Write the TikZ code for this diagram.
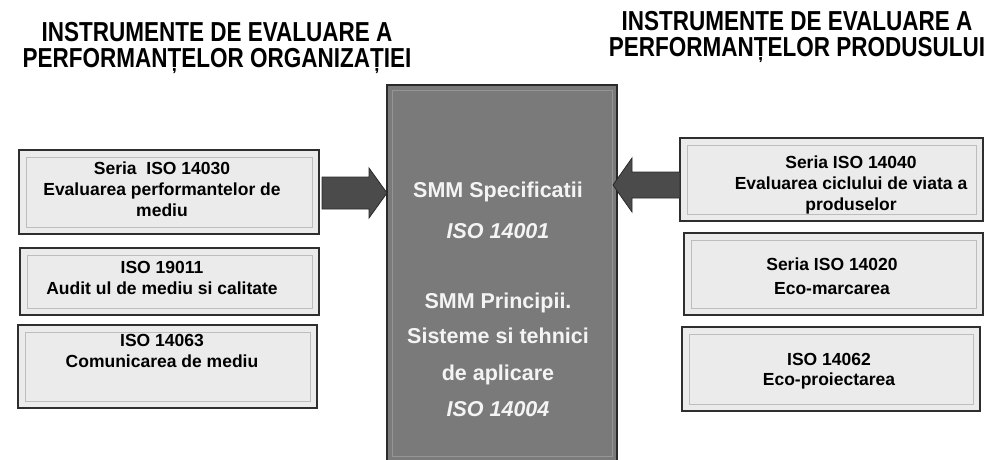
\documentclass[tikz,border=0pt]{standalone}
\usepackage{fontspec}
\setmainfont{Liberation Sans}
\usetikzlibrary{calc}

\definecolor{boxfill}{HTML}{EBEBEB}
\definecolor{boxedge}{HTML}{2E2E2E}
\definecolor{boxinner}{HTML}{BDBDBD}
\definecolor{corefill}{HTML}{7A7A7A}
\definecolor{coreedge}{HTML}{2A2A2A}
\definecolor{coreinner}{HTML}{959595}
\definecolor{arrowfill}{HTML}{4B4B4B}
\definecolor{arrowedge}{HTML}{2A2A2A}
\definecolor{coretext}{HTML}{F4F4F4}

\tikzset{
  stdbox/.style={draw=boxedge, line width=1.3pt, fill=boxfill, inner sep=0pt, outer sep=0pt},
  innerframe/.style={draw=boxinner, line width=1pt},
  corebox/.style={draw=coreedge, line width=1.3pt, fill=corefill, inner sep=0pt, outer sep=0pt},
  coreframe/.style={draw=coreinner, line width=1pt},
  boxtext/.style={align=center, inner sep=0pt, text=black,
    font=\fontsize{17.5}{21}\selectfont\bfseries},
  coretxt/.style={anchor=base, inner sep=0pt, text=coretext,
    font=\fontsize{21.5}{26}\selectfont\bfseries},
  titletext/.style={inner sep=0pt, text=black},
  fatarrow/.style={fill=arrowfill, draw=arrowedge, line width=0.8pt, line join=miter}
}

% two-line heading, set slightly taller than the plain font
\newcommand{\titleblock}[2]{\scalebox{1}[1.22]{\fontsize{22.5}{20}\selectfont\bfseries
  \begin{tabular}{@{}c@{}}#1\\[-0.5pt]#2\end{tabular}}}

\begin{document}
\begin{tikzpicture}[x=1pt, y=-1pt]
\useasboundingbox (0,0) rectangle (993,459);
\begin{scope}
\clip (0,0) rectangle (993,459);

% headings
\node[titletext] (hl) at (217,48.5) {\titleblock{INSTRUMENTE DE EVALUARE A}{PERFORMANȚELOR ORGANIZAȚIEI}};
\node[titletext] (hr) at (797,38) {\titleblock{INSTRUMENTE DE EVALUARE A}{PERFORMANȚELOR PRODUSULUI}};

% central block
\node[corebox, minimum width=230pt, minimum height=376pt] (c) at (502,273) {};
\draw[coreframe] ($(c.north west)+(5,5)$) rectangle ($(c.south east)+(-5,-5)$);
\node[coretxt] (c1) at (498,197) {SMM Specificatii};
\node[coretxt] (c2) at (498,238) {\itshape ISO 14001};
\node[coretxt] (c3) at (498,308) {SMM Principii.};
\node[coretxt] (c4) at (498,343) {Sisteme si tehnici};
\node[coretxt] (c5) at (498,380) {de aplicare};
\node[coretxt] (c6) at (498,416) {\itshape ISO 14004};

% organisation tools
\node[stdbox, minimum width=300pt, minimum height=84pt] (b1) at (169,192) {};
\node[stdbox, minimum width=299pt, minimum height=67pt] (b2) at (169.5,281.5) {};
\node[stdbox, minimum width=299pt, minimum height=83pt] (b3) at (167.5,366.5) {};
% product tools
\node[stdbox, minimum width=303pt, minimum height=83pt] (r1) at (831.5,179.5) {};
\node[stdbox, minimum width=299pt, minimum height=82pt] (r2) at (833.5,274) {};
\node[stdbox, minimum width=298pt, minimum height=84pt] (r3) at (831,369) {};

\foreach \b in {b1,b2,b3,r1,r2,r3}
  \draw[innerframe] ($(\b.north west)+(7,7)$) rectangle ($(\b.south east)+(-7,-7)$);

\node[boxtext] (t1) at (162,189) {Seria\ \ ISO 14030\\Evaluarea performantelor de\\mediu};
\node[boxtext] (t2) at (162,278) {ISO 19011\\Audit ul de mediu si calitate};
\node[boxtext] (t3) at (162,351) {ISO 14063\\Comunicarea de mediu};
\node[boxtext] (u1) at (851,185) {Seria ISO 14040\\Evaluarea ciclului de viata a\\produselor};
\node[boxtext, font=\fontsize{17.5}{24}\selectfont\bfseries] (u2) at (832,276) {Seria ISO 14020\\Eco-marcarea};
\node[boxtext, font=\fontsize{17.5}{20}\selectfont\bfseries] (u3) at (829,371) {ISO 14062\\Eco-proiectarea};

% block arrows into the central block
\path ($(b1.east)+(3,1)$) coordinate (las);
\path (c.west |- las) coordinate (lat);
\draw[fatarrow] ($(las)+(0,-16)$) -- ($(lat)+(-18,-16)$) -- ($(lat)+(-18,-25)$) -- (lat)
  -- ($(lat)+(-18,25)$) -- ($(lat)+(-18,16)$) -- ($(las)+(0,16)$) -- cycle;

\path ($(r1.west)+(0,5.5)$) coordinate (ras);
\path ($(c.east |- ras)+(-4,0)$) coordinate (rat);
\draw[fatarrow] ($(ras)+(0,-13)$) -- ($(rat)+(19,-13)$) -- ($(rat)+(19,-27)$) -- (rat)
  -- ($(rat)+(19,27)$) -- ($(rat)+(19,13)$) -- ($(ras)+(0,13)$) -- cycle;
\end{scope}
\end{tikzpicture}
\end{document}
